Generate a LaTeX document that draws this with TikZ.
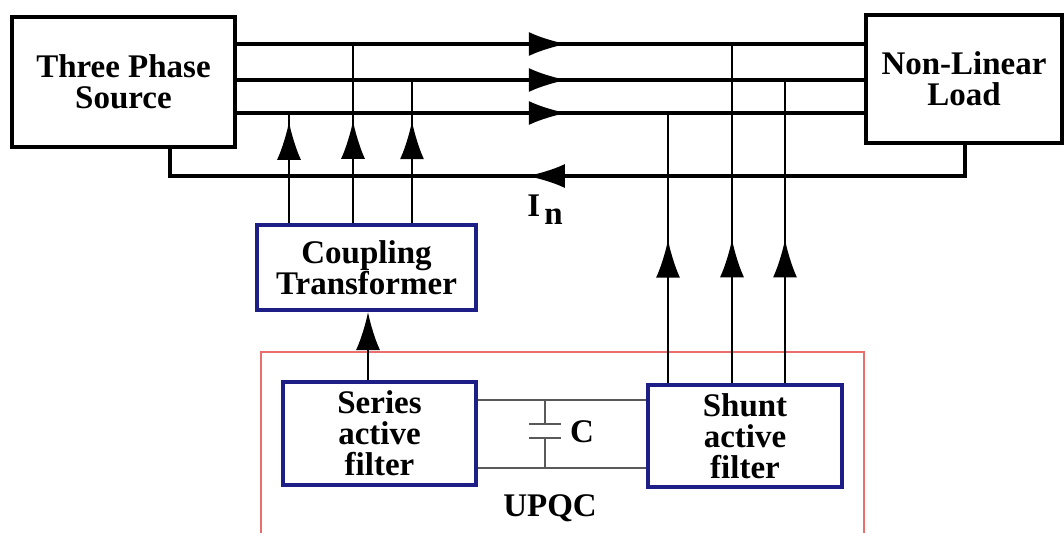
\documentclass[tikz,border=0pt]{standalone}
\usepackage{fontspec}
\setmainfont{Liberation Serif}
\usetikzlibrary{arrows.meta,decorations.markings}
\definecolor{ctrlblue}{RGB}{30,30,135}
\definecolor{upqcred}{RGB}{235,110,110}

\begin{document}
\begin{tikzpicture}[x=0.5pt, y=-0.5pt, >={Latex[length=19pt,width=12pt]},
  every node/.style={font=\fontsize{16.5}{15.5}\selectfont\bfseries, align=center},
  blackbox/.style={draw, line width=2pt, inner sep=0pt},
  bluebox/.style={draw=ctrlblue, line width=2pt, inner sep=0pt},
  phase/.style={line width=1.8pt},
  tap/.style={line width=1.2pt},
  capwire/.style={line width=1.1pt, black!65},
  arrowat/.style={postaction={decorate}, decoration={markings, mark=at position #1 with {\arrow{>}}}}]
  \clip (0,0) rectangle (1064,532);
  % Source and load
  \node[blackbox, minimum width=111.5pt, minimum height=65pt] (src) at (123.5,82) {Three Phase\\Source};
  \node[blackbox, minimum width=98pt, minimum height=64pt] (load) at (964,79) {Non-Linear\\Load};
  % Phase lines
  \coordinate (ya) at (0,44);
  \coordinate (yb) at (0,80);
  \coordinate (yc) at (0,113);
  \foreach \lv in {ya,yb,yc}
    \draw[phase, arrowat=0.526] (src.east |- \lv) -- (load.west |- \lv);
  % Neutral line
  \coordinate (nS) at (170,176);
  \coordinate (nL) at (965,176);
  \draw[phase, line join=miter, arrowat=0.55] (load.south -| nL) -- (nL) -- (nS) -- (src.south -| nS);
  \node (in) at (545,210) {I\kern2pt\raisebox{-4pt}{n}};
  % Coupling transformer
  \node[bluebox, minimum width=109.5pt, minimum height=42.5pt] (ct) at (366.5,267.5) {Coupling\\Transformer};
  \foreach \x/\lv/\p in {289/yc/0.92, 353/ya/0.571, 412/yb/0.712}
    \draw[tap, arrowat=\p] (ct.north -| \x,0) -- (\x,0 |- \lv);
  % UPQC
  \draw[upqcred, line width=0.8pt] (261,352) rectangle (864,560);
  \node (upqc) at (550,508) {UPQC};
  \node[bluebox, minimum width=96.5pt, minimum height=51.5pt] (saf) at (379.5,433.5) {Series\\active\\filter};
  \node[bluebox, minimum width=97pt, minimum height=51pt] (shaf) at (745,436) {Shunt\\active\\filter};
  \draw[tap, ->] (saf.north -| 368,0) -- (ct.south -| 368,0);
  \foreach \x/\lv/\p in {668/yc/0.531, 732/ya/0.424, 785/yb/0.474}
    \draw[tap, arrowat=\p] (shaf.north -| \x,0) -- (\x,0 |- \lv);
  % DC link capacitor
  \coordinate (cT) at (545,400);
  \coordinate (cB) at (545,468);
  \draw[capwire] (saf.east |- cT) -- (shaf.west |- cT);
  \draw[capwire] (saf.east |- cB) -- (shaf.west |- cB);
  \draw[capwire] (cT) -- (545,424) (529,424) -- (561,424)
    (529,438) -- (561,438) (545,438) -- (cB);
  \node (cap) at (582,432) {C};
\end{tikzpicture}
\end{document}
